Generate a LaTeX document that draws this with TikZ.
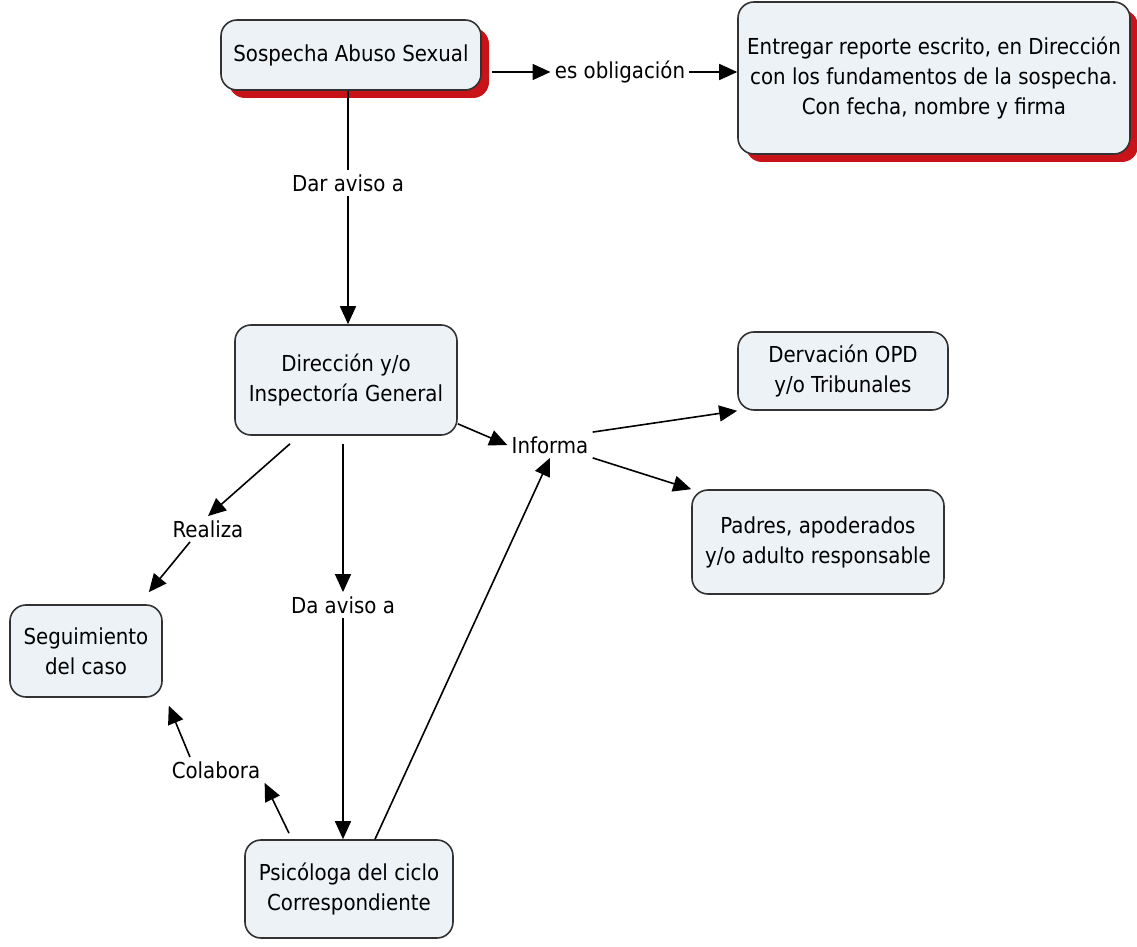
\documentclass[tikz,border=0pt]{standalone}
\usepackage{fontspec}
\setmainfont{DejaVu Sans Condensed}
\usetikzlibrary{arrows.meta,shadows}
\definecolor{boxfill}{RGB}{236,242,246}
\definecolor{boxline}{RGB}{50,50,50}
\definecolor{shadowred}{RGB}{200,20,25}
\tikzset{
  concept/.style={draw=boxline,thick,fill=boxfill,rounded corners=8pt,align=center,
    inner sep=2pt,font=\fontsize{11}{15}\selectfont},
  redshadow/.style={drop shadow={fill=shadowred,opacity=1,shadow xshift=4pt,shadow yshift=-4pt}},
  link/.style={font=\fontsize{11}{15}\selectfont,inner sep=2pt},
  flow/.style={-{Triangle[length=9pt,width=8pt]},thick}
}
\begin{document}
\begin{tikzpicture}[x=0.5pt,y=-0.5pt]
  \useasboundingbox (0,0) rectangle (1137,947);
  % conceptos
  \node[concept,redshadow,minimum width=130pt,minimum height=35pt] (sospecha) at (351,55) {Sospecha Abuso Sexual};
  \node[concept,redshadow,minimum width=196pt,minimum height=76pt] (entregar) at (934,78)
    {Entregar reporte escrito, en Dirección\\con los fundamentos de la sospecha.\\Con fecha, nombre y firma};
  \node[concept,minimum width=111pt,minimum height=55pt] (direccion) at (346,380) {Dirección y/o\\Inspectoría General};
  \node[concept,minimum width=105pt,minimum height=39pt] (derivacion) at (843,371) {Dervación OPD\\y/o Tribunales};
  \node[concept,minimum width=126pt,minimum height=52pt] (padres) at (818,542) {Padres, apoderados\\y/o adulto responsable};
  \node[concept,minimum width=76pt,minimum height=46pt] (seguimiento) at (86,651) {Seguimiento\\del caso};
  \node[concept,minimum width=104pt,minimum height=49pt] (psicologa) at (349,889) {Psicóloga del ciclo\\Correspondiente};
  % frases de enlace
  \node[link] (obligacion) at (620,72) {es obligación};
  \node[link] (daraviso) at (348,183) {Dar aviso a};
  \node[link] (informa) at (550,445) {Informa};
  \node[link] (realiza) at (208,529) {Realiza};
  \node[link] (daaviso) at (343,605) {Da aviso a};
  \node[link] (colabora) at (216,770) {Colabora};
  % conexiones
  \draw[flow] ([xshift=5pt]sospecha.east |- obligacion) -- (obligacion.west);
  \draw[flow] (obligacion.east) -- (entregar.west |- obligacion);
  \draw[thick] (daraviso.north |- sospecha.south) -- (daraviso.north);
  \draw[flow] (daraviso.south) -- (daraviso.south |- direccion.north);
  \draw[flow] ([yshift=6pt]direccion.south east) -- (informa.west);
  \draw[flow] (informa.north east) -- (derivacion.south west);
  \draw[flow] (informa.south east) -- (padres.north west);
  \draw[flow] ([xshift=-28pt,yshift=-4pt]direccion.south) -- (realiza.north);
  \draw[flow] ([xshift=-9pt]realiza.south) -- ([xshift=-7pt,yshift=6pt]seguimiento.north east);
  \draw[flow] ([xshift=-1.5pt,yshift=-4pt]direccion.south) -- (daaviso.north);
  \draw[flow] (daaviso.south) -- (daaviso.south |- psicologa.north);
  \draw[flow] ([xshift=-30pt,yshift=3pt]psicologa.north) -- (colabora.south east);
  \draw[flow] ([xshift=-13pt]colabora.north) -- ([xshift=3pt,yshift=-4pt]seguimiento.south east);
  \draw[flow] ([xshift=13pt]psicologa.north) -- (informa.south);
\end{tikzpicture}
\end{document}
